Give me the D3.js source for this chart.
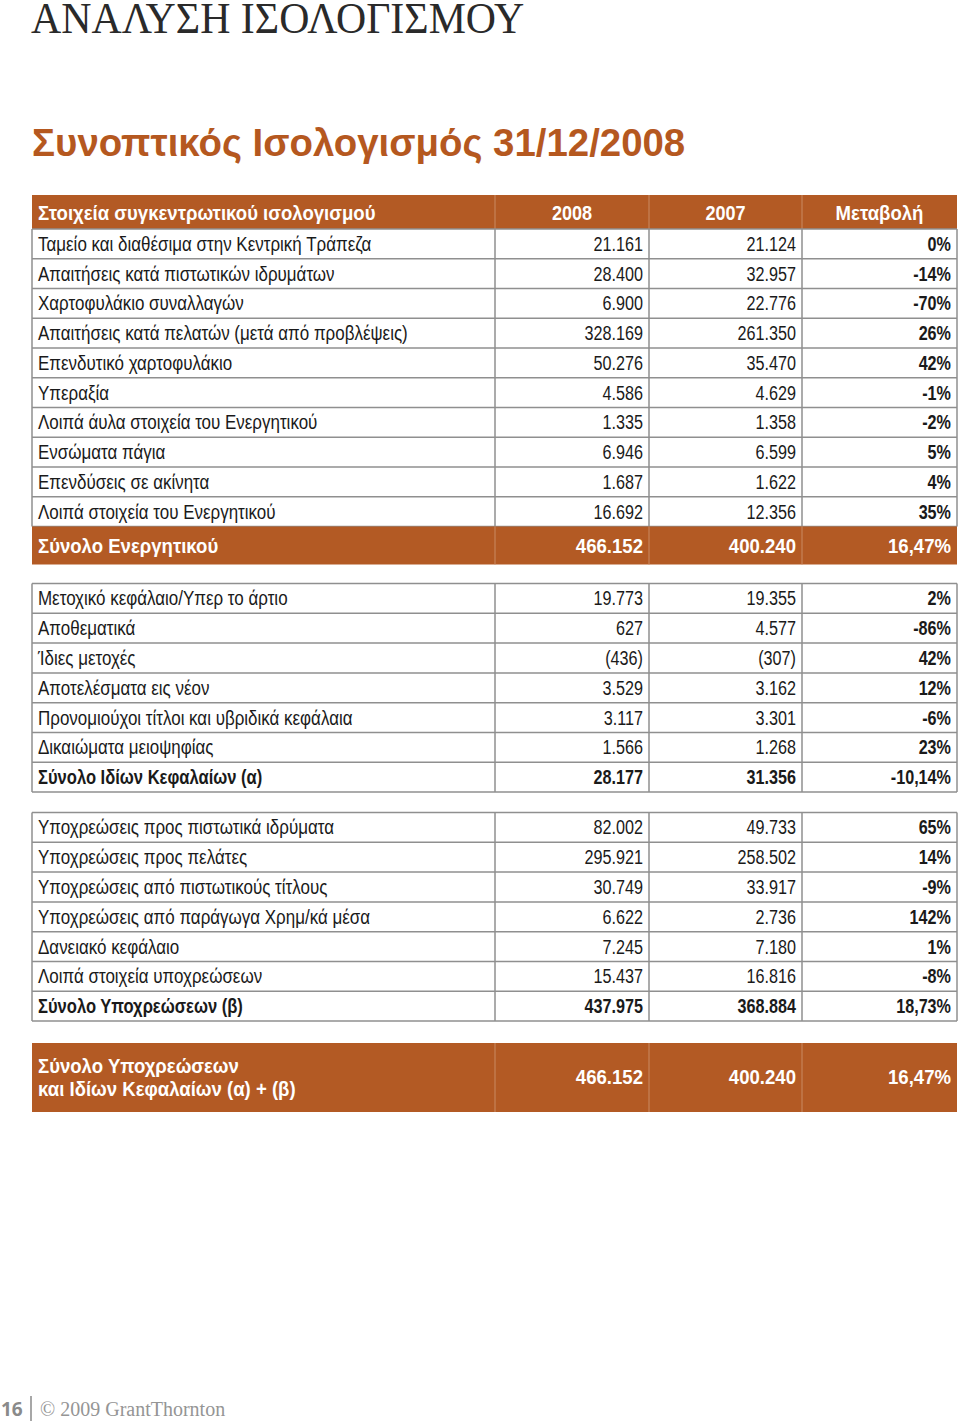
<!DOCTYPE html>
<html><head><meta charset="utf-8">
<script src="https://cdn.jsdelivr.net/npm/d3@7"></script>
<style>
html,body{margin:0;padding:0;background:#fff;}
svg{display:block;}
</style></head>
<body>
<svg id="c" width="960" height="1422"></svg>
<script>
// ---- data ----
const pageTitle = "ΑΝΑΛΥΣΗ ΙΣΟΛΟΓΙΣΜΟΥ";
const subTitle = "Συνοπτικός Ισολογισμός 31/12/2008";
const headerLabels = ["Στοιχεία συγκεντρωτικού ισολογισμού", "2008", "2007", "Μεταβολή"];

const assetLabels = ["Ταμείο και διαθέσιμα στην Κεντρική Τράπεζα","Απαιτήσεις κατά πιστωτικών ιδρυμάτων","Χαρτοφυλάκιο συναλλαγών","Απαιτήσεις κατά πελατών (μετά από προβλέψεις)","Επενδυτικό χαρτοφυλάκιο","Υπεραξία","Λοιπά άυλα στοιχεία του Ενεργητικού","Ενσώματα πάγια","Επενδύσεις σε ακίνητα","Λοιπά στοιχεία του Ενεργητικού"];
const assets2008 = ["21.161","28.400","6.900","328.169","50.276","4.586","1.335","6.946","1.687","16.692"];
const assets2007 = ["21.124","32.957","22.776","261.350","35.470","4.629","1.358","6.599","1.622","12.356"];
const assetsChange = ["0%","-14%","-70%","26%","42%","-1%","-2%","5%","4%","35%"];
const assetsTotal = ["Σύνολο Ενεργητικού","466.152","400.240","16,47%"];

const equityLabels = ["Μετοχικό κεφάλαιο/Υπερ το άρτιο","Αποθεματικά","Ίδιες μετοχές","Αποτελέσματα εις νέον","Προνομιούχοι τίτλοι και υβριδικά κεφάλαια","Δικαιώματα μειοψηφίας"];
const equity2008 = ["19.773","627","(436)","3.529","3.117","1.566"];
const equity2007 = ["19.355","4.577","(307)","3.162","3.301","1.268"];
const equityChange = ["2%","-86%","42%","12%","-6%","23%"];
const equityTotal = ["Σύνολο Ιδίων Κεφαλαίων (α)","28.177","31.356","-10,14%"];

const liabLabels = ["Υποχρεώσεις προς πιστωτικά ιδρύματα","Υποχρεώσεις προς πελάτες","Υποχρεώσεις από πιστωτικούς τίτλους","Υποχρεώσεις από παράγωγα Χρημ/κά μέσα","Δανειακό κεφάλαιο","Λοιπά στοιχεία υποχρεώσεων"];
const liab2008 = ["82.002","295.921","30.749","6.622","7.245","15.437"];
const liab2007 = ["49.733","258.502","33.917","2.736","7.180","16.816"];
const liabChange = ["65%","14%","-9%","142%","1%","-8%"];
const liabTotal = ["Σύνολο Υποχρεώσεων (β)","437.975","368.884","18,73%"];

const grandLabel = ["Σύνολο Υποχρεώσεων","και Ιδίων Κεφαλαίων (α) + (β)"];
const grandValues = ["466.152","400.240","16,47%"];

const footerPage = "16";
const footerText = "© 2009 GrantThornton";

// ---- drawing ----
const svg = d3.select("#c");
const ORANGE = "#b35a24";
const GRID = "#8f8f8f";
const FONT = "'Liberation Sans',Arial,sans-serif";

const cols = ["label","v2008","v2007","chg"];
const xEdge = d3.scaleOrdinal().domain(cols.concat(["end"])).range([32, 495, 649, 802, 957]);
const nextCol = {label:"v2008", v2008:"v2007", v2007:"chg", chg:"end"};

svg.append("text").attr("transform","translate(31,33) scale(0.93,1)")
  .attr("font-family","'Liberation Serif','Times New Roman',serif").attr("font-size",45)
  .attr("fill","#2a2a2a").text(pageTitle);
svg.append("text").attr("x",32).attr("y",156)
  .attr("font-family","'Liberation Sans',Arial,sans-serif").attr("font-weight","bold").attr("font-size",38.4)
  .attr("fill","#b5581f").text(subTitle);

function narrowText(g, x, y, txt, anchor, opts){
  const sx = opts.sx || 0.83;
  return g.append("text").attr("transform",`translate(${x},${y}) scale(${sx},1)`)
   .attr("dy","0.36em").attr("text-anchor",anchor).attr("font-family",FONT)
   .attr("font-size",opts.size||19.5)
   .attr("font-weight",opts.bold?"bold":"normal")
   .attr("fill",opts.fill||"#1a1a1a").text(txt);
}

function cellText(g, col, yMid, txt, opts){
  const x0 = xEdge(col), x1 = xEdge(nextCol[col]);
  let x, anchor;
  if (opts.center){ x=(x0+x1)/2; anchor="middle"; }
  else if (col==="label"){ x=x0+6; anchor="start"; }
  else { x=x1-6; anchor="end"; }
  return narrowText(g, x, yMid, txt, anchor, opts);
}

function band(top, h){
  const g = svg.append("g");
  g.append("rect").attr("x",xEdge("label")).attr("y",top).attr("width",xEdge("end")-xEdge("label")).attr("height",h)
   .attr("fill",ORANGE);
  cols.slice(1).forEach(c=>{
    g.append("line").attr("x1",xEdge(c)).attr("x2",xEdge(c)).attr("y1",top).attr("y2",top+h)
      .attr("stroke","#c98a62").attr("stroke-width",1);
  });
  return g;
}

function section(top, rowH, labels, a, b, c, total){
  const n = labels.length + (total?1:0);
  const y = d3.scaleLinear().domain([0,n]).range([top, top+rowH*n]);
  const g = svg.append("g");
  const rows = labels.map((l,i)=>({label:l,v2008:a[i],v2007:b[i],chg:c[i],bold:false}));
  if (total) rows.push({label:total[0],v2008:total[1],v2007:total[2],chg:total[3],bold:true});
  rows.forEach((r,i)=>{
    cols.forEach(col=>{
      let sx = 0.83;
      if (col==="label") sx = r.bold ? 0.85 : 0.87;
      cellText(g,col,(y(i)+y(i+1))/2,r[col],{bold:r.bold||col==="chg",sx:sx});
    });
  });
  d3.range(n+1).forEach(i=>{
    g.append("line").attr("x1",xEdge("label")).attr("x2",xEdge("end")).attr("y1",y(i)).attr("y2",y(i))
      .attr("stroke",GRID).attr("stroke-width",1.5);
  });
  cols.concat(["end"]).forEach(col=>{
    g.append("line").attr("x1",xEdge(col)).attr("x2",xEdge(col)).attr("y1",y(0)).attr("y2",y(n))
      .attr("stroke",GRID).attr("stroke-width",1.5);
  });
  return y(n);
}

const W = {bold:true,fill:"#fff",size:21,sx:0.885};

// header
const hTop=195, hH=34;
const hg = band(hTop,hH);
cellText(hg,"label",hTop+hH/2,headerLabels[0],W);
cellText(hg,"v2008",hTop+hH/2,headerLabels[1],Object.assign({},W,{center:true,sx:0.86}));
cellText(hg,"v2007",hTop+hH/2,headerLabels[2],Object.assign({},W,{center:true,sx:0.86}));
cellText(hg,"chg",hTop+hH/2,headerLabels[3],Object.assign({},W,{center:true}));

// assets
const aEnd = section(229, 29.75, assetLabels, assets2008, assets2007, assetsChange, null);
const tH = 38;
const tg = band(aEnd, tH);
cellText(tg,"label",aEnd+tH/2,assetsTotal[0],W);
cellText(tg,"v2008",aEnd+tH/2,assetsTotal[1],W);
cellText(tg,"v2007",aEnd+tH/2,assetsTotal[2],W);
cellText(tg,"chg",aEnd+tH/2,assetsTotal[3],W);

section(583.5, 29.8, equityLabels, equity2008, equity2007, equityChange, equityTotal);
section(812.5, 29.8, liabLabels, liab2008, liab2007, liabChange, liabTotal);

// grand total
const gTop=1043, gH=69;
const gg = band(gTop,gH);
grandLabel.forEach((t,i)=>{
  narrowText(gg, 38, 1065+i*23, t, "start", W);
});
cellText(gg,"v2008",1076,grandValues[0],W);
cellText(gg,"v2007",1076,grandValues[1],W);
cellText(gg,"chg",1076,grandValues[2],W);

// footer
svg.append("text").attr("x",1).attr("y",1416).attr("font-family","'Open Sans','Liberation Sans',sans-serif")
  .attr("font-weight","bold").attr("font-size",19).attr("fill","#8a8a8a").text(footerPage);
svg.append("line").attr("x1",31).attr("x2",31).attr("y1",1396).attr("y2",1421).attr("stroke","#8a8a8a").attr("stroke-width",1.5);
svg.append("text").attr("x",40).attr("y",1416).attr("font-family","'Liberation Serif',serif")
  .attr("font-size",20).attr("fill","#959595").text(footerText);
</script>
</body></html>
